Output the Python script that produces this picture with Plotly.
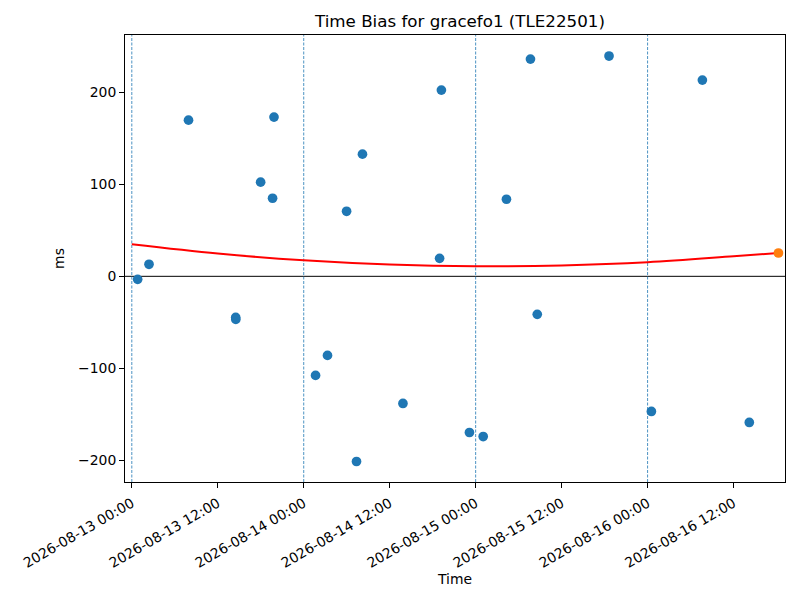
import plotly.graph_objects as go

# Observed time-bias points
obs_time = [
    "2026-08-13 00:49", "2026-08-13 02:24", "2026-08-13 07:55", "2026-08-13 19:51",
    "2026-08-13 17:59", "2026-08-13 19:39", "2026-08-13 14:30", "2026-08-13 14:31",
    "2026-08-14 08:12", "2026-08-14 05:59", "2026-08-14 19:13", "2026-08-14 18:58",
    "2026-08-14 03:19", "2026-08-14 01:39", "2026-08-14 13:51", "2026-08-14 07:22",
    "2026-08-15 07:39", "2026-08-15 18:37", "2026-08-16 07:39", "2026-08-15 04:18",
    "2026-08-15 08:36", "2026-08-14 23:08", "2026-08-15 01:03", "2026-08-16 00:32",
    "2026-08-16 14:12",
]
obs_ms = [
    -3.3, 13.1, 170.0, 173.3,
    102.5, 85.0, -44.7, -46.9,
    133.0, 70.8, 202.7, 19.6,
    -86.1, -107.9, -138.4, -201.6,
    236.5, 239.8, 213.6, 83.9,
    -41.4, -170.0, -174.4, -147.1,
    -159.1,
]

# Fitted trend
fit_time = ["2026-08-13 00:00", "2026-08-13 12:00", "2026-08-14 00:00", "2026-08-14 12:00",
            "2026-08-15 00:00", "2026-08-15 12:00", "2026-08-16 00:00", "2026-08-16 12:00",
            "2026-08-16 18:16"]
fit_ms = [34.9, 24.8, 17.4, 12.8, 10.9, 11.8, 15.3, 21.8, 25.4]

# Latest point
last_time = ["2026-08-16 18:16"]
last_ms = [25.4]

day_lines = ["2026-08-13 00:00", "2026-08-14 00:00", "2026-08-15 00:00", "2026-08-16 00:00"]
tick_vals = ["2026-08-13 00:00", "2026-08-13 12:00", "2026-08-14 00:00", "2026-08-14 12:00",
             "2026-08-15 00:00", "2026-08-15 12:00", "2026-08-16 00:00", "2026-08-16 12:00"]
tick_text = [t for t in tick_vals]

fig = go.Figure()
fig.add_trace(go.Scatter(x=obs_time, y=obs_ms, mode="markers",
                         marker=dict(color="#1f77b4", size=9.7), showlegend=False))
fig.add_trace(go.Scatter(x=fit_time, y=fit_ms, mode="lines",
                         line=dict(color="red", width=2, shape="spline"), showlegend=False))
fig.add_trace(go.Scatter(x=last_time, y=last_ms, mode="markers",
                         marker=dict(color="#ff7f0e", size=9.7), showlegend=False))

shapes = [dict(type="line", xref="paper", yref="y", x0=0, x1=1, y0=0, y1=0,
               line=dict(color="black", width=1), layer="below")]
for d in day_lines:
    shapes.append(dict(type="line", xref="x", yref="paper", x0=d, x1=d, y0=0, y1=1,
                       line=dict(color="#1f77b4", width=0.8, dash="3px,1.5px"), layer="below"))

fig.update_layout(
    width=800, height=600,
    margin=dict(l=117, r=23, t=27, b=126),
    plot_bgcolor="white", paper_bgcolor="white",
    font=dict(family="DejaVu Sans", size=14, color="black"),
    title=dict(text="Time Bias for gracefo1 (TLE22501)", x=(460 - 8) / 800, xanchor="center",
               y=1 - 13 / 600, yanchor="middle", font=dict(size=16.7)),
    shapes=shapes,
    xaxis=dict(
        title=dict(text="Time", font=dict(size=13.9), standoff=1),
        type="date", range=["2026-08-12 23:03", "2026-08-16 19:11"],
        tickvals=tick_vals, ticktext=tick_text, tickangle=-30,
        showline=True, linecolor="black", linewidth=1, mirror=True,
        ticks="outside", ticklen=5, tickcolor="black", showgrid=False, zeroline=False,
        tickfont=dict(size=13.9), ticklabelstandoff=2,
    ),
    yaxis=dict(
        title=dict(text="ms", font=dict(size=13.9), standoff=10),
        range=[-223.9, 262.7], tickvals=[-200, -100, 0, 100, 200],
        showline=True, linecolor="black", linewidth=1, mirror=True,
        ticks="outside", ticklen=5, tickcolor="black", showgrid=False, zeroline=False,
        tickfont=dict(size=13.9),
    ),
)

fig.write_html("out.html")
